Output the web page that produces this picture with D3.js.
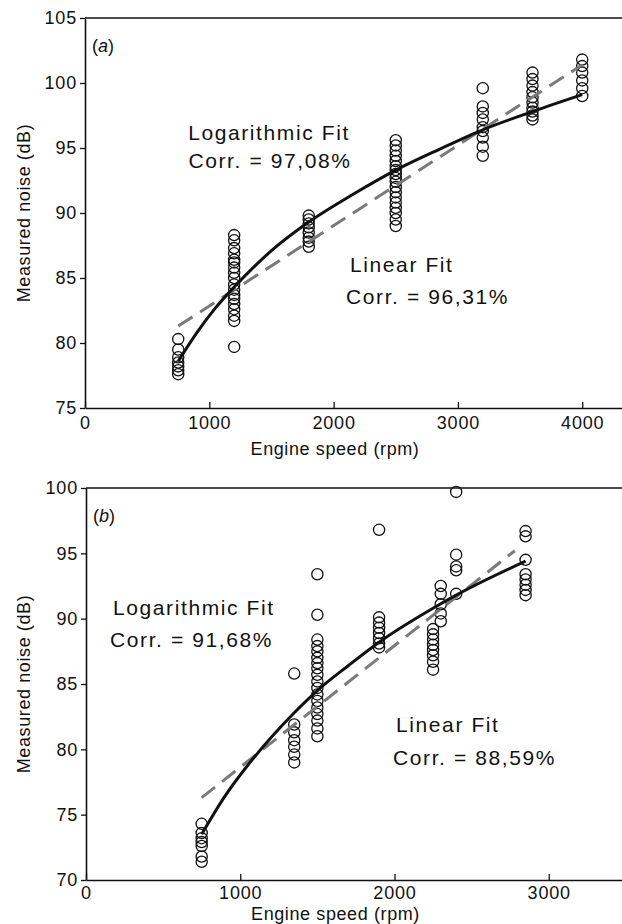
<!DOCTYPE html>
<html>
<head>
<meta charset="utf-8">
<script src="https://cdn.jsdelivr.net/npm/d3@7"></script>
<style>
  body { margin: 0; background: #fff; }
  svg text { font-family: "Liberation Sans", Arial, sans-serif; fill: #111; }
  .tick text { font-size: 18px; letter-spacing: 0.8px; }
  .axisTitle { font-size: 18px; letter-spacing: 0.6px; }
  .note { font-size: 21px; letter-spacing: 1.6px; }
</style>
</head>
<body>
<svg width="622" height="924"></svg>
<script>
// panel (a)
var speedsA = [750, 1200, 1800, 2500, 3200, 3600, 4000];
var noiseA = [
  [80.3, 79.5, 78.9, 78.5, 78.2, 77.9, 77.6],
  [88.3, 87.9, 87.3, 86.9, 86.4, 86.2, 85.8, 85.4, 85.0, 84.5, 84.1, 83.7, 83.4, 83.0, 82.6, 82.1, 81.7, 79.7],
  [89.8, 89.5, 89.2, 88.9, 88.5, 88.1, 87.8, 87.4],
  [95.6, 95.2, 94.8, 94.4, 94.0, 93.6, 93.3, 93.0, 92.7, 92.4, 92.0, 91.6, 91.2, 90.8, 90.4, 90.0, 89.5, 89.0],
  [99.6, 98.2, 97.7, 97.2, 96.6, 96.3, 95.8, 95.1, 94.4],
  [100.8, 100.3, 99.8, 99.3, 98.9, 98.5, 98.1, 97.8, 97.5, 97.2],
  [101.8, 101.3, 100.8, 100.2, 99.6, 99.0]
];
// fitted curves
var logFitSpeedA = [750, 900, 1050, 1200, 1500, 1800, 2150, 2500, 2850, 3200, 3600, 4000];
var logFitA = [78.6, 80.8, 82.7, 84.3, 87.1, 89.3, 91.4, 93.3, 94.9, 96.4, 97.8, 99.1];
var linFitA = [[750, 81.3], [4000, 101.4]];
var xTicksA = [0, 1000, 2000, 3000, 4000];
var yTicksA = [75, 80, 85, 90, 95, 100, 105];

// panel (b)
var speedsB = [750, 1350, 1500, 1900, 2250, 2300, 2400, 2850];
var noiseB = [
  [74.3, 73.6, 73.2, 72.9, 72.6, 71.8, 71.4],
  [85.8, 81.9, 81.3, 80.7, 80.2, 79.6, 79.0],
  [93.4, 90.3, 88.4, 87.9, 87.5, 87.0, 86.6, 86.2, 85.7, 85.2, 84.7, 84.2, 83.7, 83.2, 82.7, 82.2, 81.6, 81.0],
  [96.8, 90.1, 89.7, 89.3, 88.9, 88.5, 88.1, 87.8],
  [89.2, 88.8, 88.4, 88.0, 87.6, 87.2, 86.7, 86.1],
  [92.5, 91.9, 91.1, 90.4, 89.8],
  [99.7, 94.9, 94.0, 93.7, 91.9],
  [96.7, 96.3, 94.5, 93.4, 93.0, 92.6, 92.2, 91.8]
];
var logFitSpeedB = [750, 900, 1050, 1200, 1350, 1500, 1700, 1900, 2250, 2400, 2850];
var logFitB = [73.5, 76.4, 78.8, 80.9, 82.8, 84.5, 86.4, 88.2, 90.8, 91.8, 94.4];
var linFitB = [[750, 76.3], [2780, 95.2]];
var xTicksB = [0, 1000, 2000, 3000];
var yTicksB = [70, 75, 80, 85, 90, 95, 100];

var svg = d3.select("svg");

function drawPanel(p) {
  var x = d3.scaleLinear().domain(p.xDomain).range([p.left, 622]);
  var y = d3.scaleLinear().domain(p.yDomain).range([p.bottom, p.top]);
  var g = svg.append("g");

  // frame: top edge, left and bottom axes
  g.append("line")
    .attr("x1", p.left).attr("x2", 622)
    .attr("y1", p.top).attr("y2", p.top)
    .attr("stroke", "#111").attr("stroke-width", 1.6);

  var xAxis = d3.axisBottom(x).tickValues(p.xTicks).tickFormat(d3.format("d"))
    .tickSizeInner(-6).tickSizeOuter(0).tickPadding(p.tickPad);
  g.append("g")
    .attr("transform", "translate(0," + p.bottom + ")")
    .call(xAxis)
    .call(function(a) {
      a.select(".domain").attr("stroke", "#111").attr("stroke-width", 1.6);
      a.selectAll(".tick line").attr("stroke", "#111").attr("stroke-width", 1.3);
      a.selectAll(".tick text").attr("dy", "0.55em");
    });

  var yAxis = d3.axisLeft(y).tickValues(p.yTicks).tickSizeInner(5).tickSizeOuter(0).tickPadding(3);
  g.append("g")
    .attr("transform", "translate(" + p.left + ",0)")
    .call(yAxis)
    .call(function(a) {
      a.select(".domain").attr("stroke", "#111").attr("stroke-width", 1.6);
      a.selectAll(".tick line").attr("stroke", "#111").attr("stroke-width", 1.3);
    });

  g.append("text")
    .attr("class", "axisTitle")
    .attr("x", (p.left + 585) / 2)
    .attr("y", p.bottom + p.titleDy)
    .attr("text-anchor", "middle")
    .text("Engine speed (rpm)");

  g.append("text")
    .attr("class", "axisTitle")
    .attr("transform", "translate(30," + (p.top + p.bottom) / 2 + ") rotate(-90)")
    .attr("text-anchor", "middle")
    .text("Measured noise (dB)");

  // panel label
  var lab = g.append("text").attr("x", p.left + 7).attr("y", p.top + 34).style("font-size", "18px");
  lab.append("tspan").text("(");
  lab.append("tspan").style("font-style", "italic").text(p.label);
  lab.append("tspan").text(")");

  // measured points
  var pts = [];
  p.speeds.forEach(function(s, i) {
    p.noise[i].forEach(function(v) { pts.push([s, v]); });
  });
  g.selectAll("circle")
    .data(pts)
    .enter()
    .append("circle")
    .attr("cx", function(d) { return x(d[0]); })
    .attr("cy", function(d) { return y(d[1]); })
    .attr("r", 5.6)
    .attr("fill", "none")
    .attr("stroke", "#111")
    .attr("stroke-width", 1.3);

  // linear fit (dashed) and logarithmic fit (solid)
  var line = d3.line()
    .x(function(d) { return x(d[0]); })
    .y(function(d) { return y(d[1]); });

  g.append("path")
    .attr("d", line(p.linFit))
    .attr("fill", "none")
    .attr("stroke", "#7a7a7a")
    .attr("stroke-width", 3)
    .attr("stroke-dasharray", "17,9");

  g.append("path")
    .attr("d", line.curve(d3.curveMonotoneX)(p.logSpeed.map(function(s, i) { return [s, p.logFit[i]]; })))
    .attr("fill", "none")
    .attr("stroke", "#111")
    .attr("stroke-width", 3)
    .attr("stroke-linejoin", "round");

  // annotations
  p.notes.forEach(function(n) {
    g.append("text")
      .attr("class", "note")
      .attr("x", n.x).attr("y", n.y)
      .attr("text-anchor", n.anchor)
      .text(n.text);
  });
}

drawPanel({
  label: "a", left: 85, top: 18, bottom: 408, tickPad: 11, titleDy: 47,
  xDomain: [0, 4320], yDomain: [75, 105],
  xTicks: xTicksA, yTicks: yTicksA,
  speeds: speedsA, noise: noiseA, logSpeed: logFitSpeedA, logFit: logFitA, linFit: linFitA,
  notes: [
    {x: 269, y: 140, anchor: "middle", text: "Logarithmic Fit"},
    {x: 270, y: 168, anchor: "middle", text: "Corr. = 97,08%"},
    {x: 350, y: 272, anchor: "start", text: "Linear Fit"},
    {x: 346, y: 304, anchor: "start", text: "Corr. = 96,31%"}
  ]
});

drawPanel({
  label: "b", left: 86, top: 488, bottom: 880, tickPad: 9, titleDy: 40,
  xDomain: [0, 3475], yDomain: [70, 100],
  xTicks: xTicksB, yTicks: yTicksB,
  speeds: speedsB, noise: noiseB, logSpeed: logFitSpeedB, logFit: logFitB, linFit: linFitB,
  notes: [
    {x: 113, y: 615, anchor: "start", text: "Logarithmic Fit"},
    {x: 110, y: 647, anchor: "start", text: "Corr. = 91,68%"},
    {x: 396, y: 732, anchor: "start", text: "Linear Fit"},
    {x: 393, y: 765, anchor: "start", text: "Corr. = 88,59%"}
  ]
});
</script>
</body>
</html>
